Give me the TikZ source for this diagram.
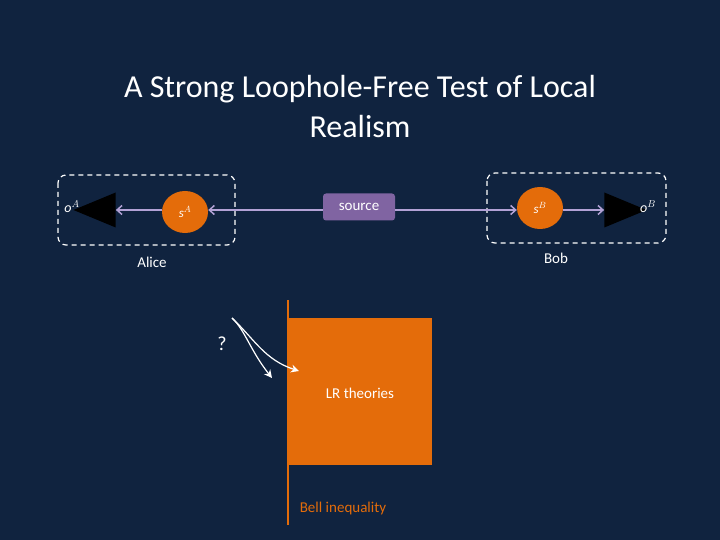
\documentclass[tikz,border=0pt]{standalone}
\usepackage{fontspec}
\setmainfont{Carlito}
\usetikzlibrary{arrows.meta}
\definecolor{bg}{HTML}{10233F}
\definecolor{org}{HTML}{E46C0A}
\definecolor{purp}{HTML}{8064A2}
\definecolor{lpur}{HTML}{B3A2D6}
\tikzset{
 dbox/.style={draw=white,dashed,very thick,dash pattern=on 5pt off 4pt,rounded corners=8pt},
 part/.style={fill=org,ellipse,minimum width=46pt,minimum height=42pt,inner sep=0pt,text=white,font=\fontsize{13}{13}\selectfont\itshape},
 lab/.style={text=white,font=\fontsize{15}{15}\selectfont},
 conn/.style={draw=lpur,line width=1.5pt,-{Straight Barb[length=5pt,width=9pt]}},
 wig/.style={draw=white,line width=1.2pt,-{Stealth[length=8pt,width=8pt]}}
}
\usetikzlibrary{shapes.geometric}
\begin{document}
\begin{tikzpicture}[x=1pt,y=-1pt]
\fill[bg] (0,0) rectangle (720,540);
\useasboundingbox (0,0) rectangle (720,540);
\node[text=white,font=\fontsize{32}{40}\selectfont,align=center] (title) at (360,107) {A Strong Loophole-Free Test of Local\\Realism};
\draw[dbox] (58,175) rectangle (235,245);
\draw[dbox] (487,173) rectangle (666,243);
\node[fill=black,isosceles triangle,shape border rotate=180,minimum width=35pt,minimum height=28pt,inner sep=0pt] (ta) at (104,210) {};
\node[fill=black,isosceles triangle,minimum width=35pt,minimum height=28pt,inner sep=0pt] (tb) at (616,210) {};
\node[part] (sa) at (185,212) {s$^{A}$};
\node[part] (sb) at (540,208) {s$^{B}$};
\node[fill=purp,rounded corners=3pt,minimum width=72pt,minimum height=27pt,text=white,font=\fontsize{15}{15}\selectfont] (src) at (359,207) {source};
\draw[conn] (src.west|-0,210) -- (sa.east|-0,210);
\draw[conn] (src.east|-0,210) -- (sb.west|-0,210);
\draw[conn] (sa.west|-0,210) -- (ta.east|-0,210);
\draw[conn] (sb.east|-0,210) -- (tb.west|-0,210);
\node[lab,font=\fontsize{14}{14}\selectfont\itshape] (oa) at (72,207) {o$^{A}$};
\node[lab,font=\fontsize{14}{14}\selectfont\itshape] (ob) at (648,207) {o$^{B}$};
\node[lab] (alice) at (152,262) {Alice};
\node[lab] (bob) at (556,258) {Bob};
\fill[org] (288,318) rectangle (432,465);
\node[lab] (lr) at (360,393) {LR theories};
\draw[org,line width=1.5pt] (288,300) -- (288,525);
\node[text=org,font=\fontsize{15}{15}\selectfont] (bell) at (343,508) {Bell inequality};
\node[lab,font=\fontsize{20}{20}\selectfont] (q) at (222,344) {?};
\coordinate (w0) at (232,318);
\coordinate (w1) at (272,378);
\coordinate (w2) at (299,371);
\draw[wig] (w0) .. controls (245,330) and (250,350) .. (w1);
\draw[wig] (w0) .. controls (255,340) and (265,360) .. (w2);
\end{tikzpicture}
\end{document}
